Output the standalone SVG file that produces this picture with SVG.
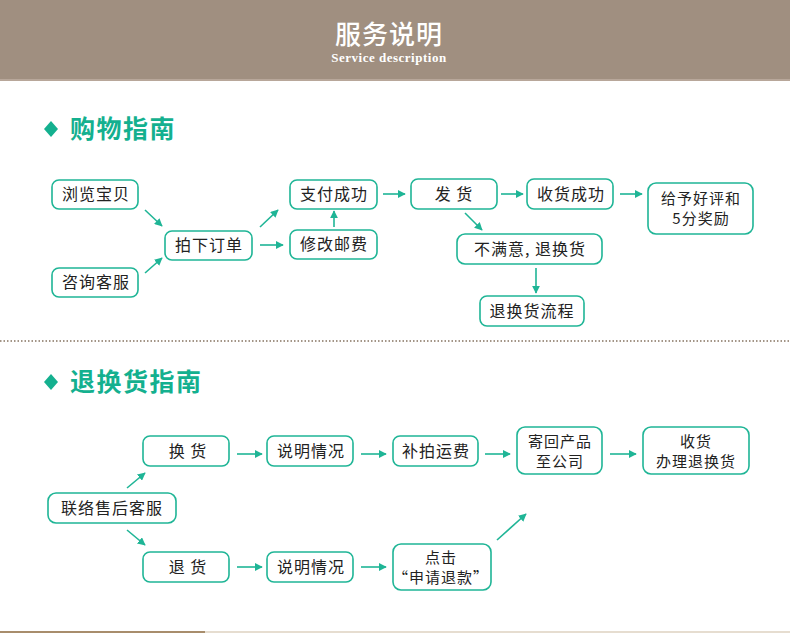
<svg xmlns="http://www.w3.org/2000/svg" width="790" height="633" viewBox="0 0 790 633">
<defs>
<style>
.box{fill:#fff;stroke:#1fb596;stroke-width:1.6}
.t{font-family:"Noto Sans CJK SC","Liberation Sans",sans-serif;font-size:16px;fill:#222;text-anchor:middle;letter-spacing:1px}
.t2{font-size:15px}
.h{font-family:"Noto Sans CJK SC",sans-serif;font-size:25px;font-weight:bold;fill:#14b08f;letter-spacing:1.5px}
.c{stroke:#1fb596;stroke-width:1.6;fill:none;marker-end:url(#ah)}
</style>
<marker id="ah" viewBox="0 0 10 10" refX="9" refY="5" markerWidth="5" markerHeight="5" orient="auto" markerUnits="strokeWidth">
<path d="M0,0 L10,5 L0,10 Z" fill="#1fb596"/>
</marker>
</defs>
<rect width="790" height="633" fill="#fff"/>
<g id="header">
<rect x="0" y="0" width="790" height="80" fill="#a08f80"/>
<rect x="0" y="79" width="790" height="2" fill="#b8a79a"/>
<text x="389" y="44" font-family="Noto Sans CJK SC,sans-serif" font-size="26" font-weight="500" fill="#fff" text-anchor="middle" letter-spacing="1">服务说明</text>
<text x="389" y="62" font-family="Liberation Serif,serif" font-size="13" font-weight="bold" fill="#fff" text-anchor="middle" letter-spacing="0.5">Service description</text>
</g>
<g id="heading1">
<path d="M51,121 L58,129 L51,137 L44,129 Z" fill="#14b08f"/>
<text class="h" x="70" y="138">购物指南</text>
</g>
<line x1="0" y1="341" x2="790" y2="341" stroke="#a39587" stroke-width="2" stroke-dasharray="1.5,2"/>
<g id="heading2">
<path d="M51,374 L58,382 L51,390 L44,382 Z" fill="#14b08f"/>
<text class="h" x="70" y="391">退换货指南</text>
</g>

<g id="n_browse"><rect class="box" x="52" y="180" width="86" height="29" rx="7"/><text class="t" x="96" y="200">浏览宝贝</text></g>
<g id="n_consult"><rect class="box" x="52" y="268" width="86" height="29" rx="7"/><text class="t" x="96" y="288">咨询客服</text></g>
<g id="n_order"><rect class="box" x="165" y="231" width="87" height="29" rx="7"/><text class="t" x="209" y="251">拍下订单</text></g>
<g id="n_pay"><rect class="box" x="290" y="180" width="87" height="29" rx="7"/><text class="t" x="334" y="200">支付成功</text></g>
<g id="n_fee"><rect class="box" x="290" y="230" width="87" height="29" rx="7"/><text class="t" x="334" y="250">修改邮费</text></g>
<g id="n_ship"><rect class="box" x="411" y="179" width="86" height="30" rx="7"/><text class="t" x="454" y="200">发  货</text></g>
<g id="n_recv"><rect class="box" x="527" y="179" width="86" height="30" rx="7"/><text class="t" x="571" y="200">收货成功</text></g>
<g id="n_review"><rect class="box" x="648" y="183" width="105" height="51" rx="8"/><text class="t t2" x="701" y="204">给予好评和</text><text class="t t2" x="701" y="224">5分奖励</text></g>
<g id="n_unsat"><rect class="box" x="457" y="234" width="145" height="30" rx="8"/><text class="t" x="530" y="255">不满意, 退换货</text></g>
<g id="n_flow"><rect class="box" x="480" y="296" width="104" height="30" rx="7"/><text class="t" x="532" y="317">退换货流程</text></g>

<g id="n_contact"><rect class="box" x="48" y="493" width="128" height="30" rx="8"/><text class="t" x="112" y="514">联络售后客服</text></g>
<g id="n_exch"><rect class="box" x="143" y="436" width="86" height="30" rx="7"/><text class="t" x="188" y="457">换  货</text></g>
<g id="n_ret"><rect class="box" x="143" y="552" width="86" height="30" rx="7"/><text class="t" x="188" y="573">退  货</text></g>
<g id="n_explain1"><rect class="box" x="267" y="436" width="86" height="30" rx="7"/><text class="t" x="311" y="457">说明情况</text></g>
<g id="n_explain2"><rect class="box" x="267" y="552" width="86" height="30" rx="7"/><text class="t" x="311" y="573">说明情况</text></g>
<g id="n_postage"><rect class="box" x="393" y="436" width="85" height="30" rx="7"/><text class="t" x="436" y="457">补拍运费</text></g>
<g id="n_sendback"><rect class="box" x="517" y="427" width="85" height="47" rx="8"/><text class="t t2" x="560" y="447">寄回产品</text><text class="t t2" x="560" y="467">至公司</text></g>
<g id="n_handle"><rect class="box" x="643" y="427" width="106" height="47" rx="8"/><text class="t t2" x="696" y="447">收货</text><text class="t t2" x="696" y="467">办理退换货</text></g>
<g id="n_refund"><rect class="box" x="393" y="544" width="98" height="46" rx="8"/><text class="t t2" x="441" y="563">点击</text><text class="t t2" x="441" y="583">“申请退款”</text></g>

<g id="connectors">
<line class="c" x1="145" y1="210" x2="162" y2="226"/>
<line class="c" x1="145" y1="273" x2="162" y2="258"/>
<line class="c" x1="260" y1="227" x2="278" y2="210"/>
<line class="c" x1="260" y1="245" x2="283" y2="245"/>
<line class="c" x1="334" y1="227" x2="334" y2="211"/>
<line class="c" x1="383" y1="194" x2="405" y2="194"/>
<line class="c" x1="501" y1="194" x2="523" y2="194"/>
<line class="c" x1="620" y1="194" x2="642" y2="194"/>
<line class="c" x1="465" y1="213" x2="482" y2="230"/>
<line class="c" x1="536" y1="268" x2="536" y2="293"/>
<line class="c" x1="127" y1="488" x2="145" y2="473"/>
<line class="c" x1="127" y1="530" x2="145" y2="545"/>
<line class="c" x1="237" y1="454" x2="262" y2="454"/>
<line class="c" x1="361" y1="454" x2="386" y2="454"/>
<line class="c" x1="485" y1="454" x2="510" y2="454"/>
<line class="c" x1="610" y1="454" x2="636" y2="454"/>
<line class="c" x1="237" y1="567" x2="262" y2="567"/>
<line class="c" x1="361" y1="567" x2="386" y2="567"/>
<line class="c" x1="497" y1="540" x2="526" y2="514" stroke-width="2.2"/>
</g>
<rect x="0" y="631" width="205" height="2" fill="#a88d6c"/>
<rect x="205" y="631" width="585" height="2" fill="#e6ddd0"/>
</svg>
